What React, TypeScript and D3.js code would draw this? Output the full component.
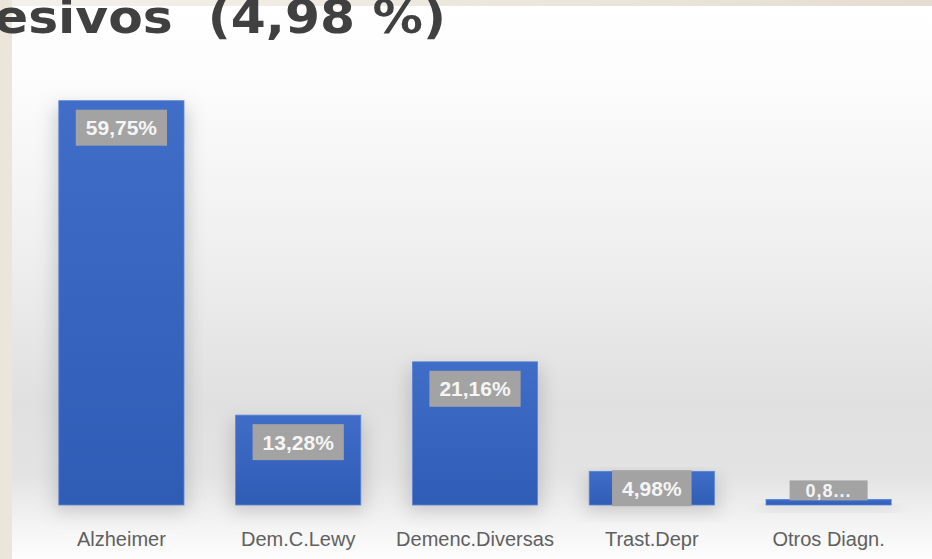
import { useEffect, useRef } from 'react';
import * as d3 from 'd3';

const categories = ['Alzheimer', 'Dem.C.Lewy', 'Demenc.Diversas', 'Trast.Depr', 'Otros Diagn.'];
const values = [59.75, 13.28, 21.16, 4.98, 0.83];
const valueLabels = ['59,75%', '13,28%', '21,16%', '4,98%', '0,8...'];
const titleText = 'esivos  (4,98 %)';

const W = 932;
const H = 559;

export default function App() {
  const ref = useRef<SVGSVGElement>(null);

  useEffect(() => {
    if (!ref.current) return;
    document.body.style.margin = '0';
    const svg = d3.select(ref.current);
    svg.selectAll('*').remove();

    const defs = svg.append('defs');

    // background gradient
    const bg = defs.append('linearGradient').attr('id', 'bg').attr('x1', 0).attr('y1', 0).attr('x2', 0).attr('y2', 1);
    [
      [0, '#ffffff'], [0.15, '#fcfcfc'], [0.45, '#efefef'], [0.72, '#e0e0e0'],
      [0.85, '#e3e3e3'], [0.94, '#f4f4f4'], [1, '#fdfdfd'],
    ].forEach(([o, c]) => bg.append('stop').attr('offset', o as number).attr('stop-color', c as string));

    const beigeTop = defs.append('linearGradient').attr('id', 'beigeTop');
    beigeTop.append('stop').attr('offset', 0).attr('stop-color', '#f4f1eb');
    beigeTop.append('stop').attr('offset', 1).attr('stop-color', '#e5ddd0');

    const barGrad = defs.append('linearGradient').attr('id', 'barGrad').attr('x1', 0).attr('y1', 0).attr('x2', 0).attr('y2', 1);
    barGrad.append('stop').attr('offset', 0).attr('stop-color', '#3f6dc7');
    barGrad.append('stop').attr('offset', 1).attr('stop-color', '#2f5db6');

    const shadow = defs.append('filter').attr('id', 'shadow').attr('x', '-30%').attr('y', '-30%').attr('width', '160%').attr('height', '160%');
    shadow.append('feGaussianBlur').attr('stdDeviation', 9);

    svg.append('rect').attr('x', 0).attr('y', 0).attr('width', W).attr('height', H).attr('fill', 'url(#bg)');
    // decorative beige strips
    svg.append('rect').attr('x', 0).attr('y', 0).attr('width', W).attr('height', 6).attr('fill', 'url(#beigeTop)');
    svg.append('rect').attr('x', 0).attr('y', 0).attr('width', 12).attr('height', H).attr('fill', '#ebe5da');

    // title fragment (cut at the top like the source slide)
    svg.append('text')
      .attr('x', -6)
      .attr('y', 33)
      .attr('textLength', 452)
      .attr('lengthAdjust', 'spacingAndGlyphs')
      .style('font-family', '"DejaVu Sans", sans-serif')
      .style('font-weight', 700)
      .style('font-size', '46px')
      .style('fill', '#404040')
      .style('white-space', 'pre')
      .text(titleText);

    const x = d3.scaleBand<string>()
      .domain(categories)
      .range([33, 917])
      .paddingInner(0.292)
      .paddingOuter(0.146);

    const y = d3.scaleLinear().domain([0, 60]).range([505, 99]);

    const data = categories.map((c, i) => ({ c, v: values[i], label: valueLabels[i] }));

    // soft shadows behind bars
    svg.append('g').selectAll('rect').data(data).enter().append('rect')
      .attr('x', d => x(d.c)! - 4)
      .attr('y', d => y(d.v) + 6)
      .attr('width', x.bandwidth() + 8)
      .attr('height', d => Math.max(0, y(0) - y(d.v)))
      .attr('fill', '#9a9a9a')
      .attr('opacity', 0.45)
      .attr('filter', 'url(#shadow)');

    svg.append('g').selectAll('rect').data(data).enter().append('rect')
      .attr('x', d => x(d.c)!)
      .attr('y', d => y(d.v))
      .attr('width', x.bandwidth())
      .attr('height', d => y(0) - y(d.v))
      .attr('fill', 'url(#barGrad)')
      .attr('stroke', '#5a85d6')
      .attr('stroke-width', 0.8);

    // value labels in grey boxes
    const lg = svg.append('g');
    data.forEach(d => {
      const barTop = y(d.v);
      const barH = y(0) - barTop;
      const cx = x(d.c)! + x.bandwidth() / 2;
      const compact = barH < 10;
      const fs = compact ? 18 : 21;
      const boxH = compact ? 20 : 36;
      let top: number;
      if (compact) top = barTop + 1 - boxH;
      else if (barH < boxH + 18) top = barTop + barH / 2 - boxH / 2;
      else top = barTop + 9;

      const box = lg.append('rect').attr('fill', '#a3a3a3');
      const t = lg.append('text')
        .attr('x', cx)
        .attr('y', top + boxH / 2)
        .attr('dy', '0.36em')
        .attr('text-anchor', 'middle')
        .style('font-family', '"Liberation Sans", Arial, sans-serif')
        .style('font-weight', 700)
        .style('font-size', `${fs}px`)
        .style('letter-spacing', compact ? '1px' : '0px')
        .style('fill', '#f5f5f5')
        .text(d.label);
      const tw = (t.node() as SVGTextElement).getComputedTextLength();
      const padX = compact ? 16 : 10;
      box.attr('x', cx - tw / 2 - padX).attr('y', top).attr('width', tw + padX * 2).attr('height', boxH);
    });

    // category labels
    svg.append('g').selectAll('text').data(categories).enter().append('text')
      .attr('x', c => x(c)! + x.bandwidth() / 2)
      .attr('y', 546)
      .attr('text-anchor', 'middle')
      .style('font-family', '"Liberation Sans", Arial, sans-serif')
      .style('font-size', '20px')
      .style('fill', '#606060')
      .text(c => c);
  }, []);

  return <svg ref={ref} width={W} height={H} style={{ display: 'block', position: 'absolute', left: 0, top: 0 }} />;
}
